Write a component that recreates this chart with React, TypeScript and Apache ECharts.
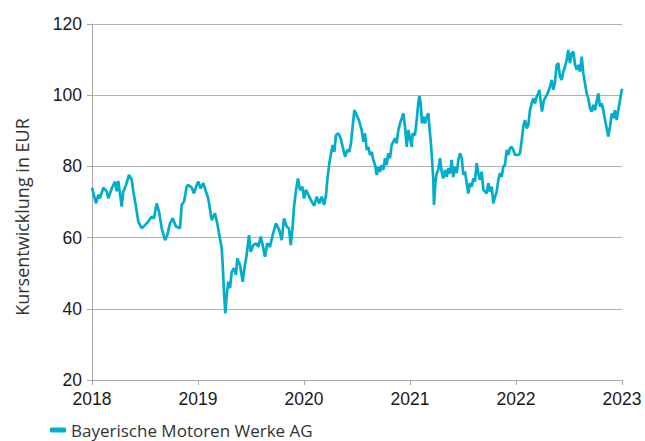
import React, { useEffect, useRef } from "react";
import * as echarts from "echarts";

const seriesName = "Bayerische Motoren Werke AG";
const yAxisTitle = "Kursentwicklung in EUR";
const xTicks = [2018, 2019, 2020, 2021, 2022, 2023];
const yTicks = [20, 40, 60, 80, 100, 120];

const years = [
  2018.000, 2018.038, 2018.059, 2018.075, 2018.107, 2018.139, 2018.154, 2018.186, 2018.217, 2018.233,
  2018.248, 2018.280, 2018.295, 2018.321, 2018.349, 2018.375, 2018.390, 2018.412, 2018.437, 2018.469,
  2018.500, 2018.531, 2018.563, 2018.585, 2018.610, 2018.632, 2018.658, 2018.689, 2018.710, 2018.736,
  2018.761, 2018.792, 2018.830, 2018.846, 2018.868, 2018.893, 2018.908, 2018.941, 2018.962, 2018.988,
  2019.003, 2019.025, 2019.050, 2019.075, 2019.097, 2019.129, 2019.160, 2019.182, 2019.201, 2019.224,
  2019.233, 2019.245, 2019.258, 2019.271, 2019.286, 2019.302, 2019.318, 2019.340, 2019.358, 2019.371,
  2019.396, 2019.422, 2019.443, 2019.459, 2019.481, 2019.497, 2019.522, 2019.547, 2019.569, 2019.592,
  2019.610, 2019.632, 2019.654, 2019.679, 2019.705, 2019.735, 2019.767, 2019.790, 2019.811, 2019.837,
  2019.858, 2019.875, 2019.893, 2019.906, 2019.925, 2019.943, 2019.962, 2019.984, 2020.000, 2020.019,
  2020.041, 2020.073, 2020.097, 2020.120, 2020.144, 2020.167, 2020.189, 2020.208, 2020.220, 2020.239,
  2020.255, 2020.271, 2020.286, 2020.302, 2020.324, 2020.346, 2020.365, 2020.387, 2020.408, 2020.427,
  2020.443, 2020.459, 2020.475, 2020.497, 2020.522, 2020.544, 2020.560, 2020.575, 2020.592, 2020.607,
  2020.623, 2020.639, 2020.654, 2020.670, 2020.686, 2020.701, 2020.717, 2020.733, 2020.748, 2020.764,
  2020.780, 2020.795, 2020.811, 2020.827, 2020.842, 2020.858, 2020.874, 2020.890, 2020.906, 2020.922,
  2020.937, 2020.953, 2020.969, 2020.984, 2021.000, 2021.016, 2021.025, 2021.047, 2021.063, 2021.078,
  2021.088, 2021.101, 2021.113, 2021.125, 2021.142, 2021.158, 2021.173, 2021.182, 2021.195, 2021.208,
  2021.220, 2021.226, 2021.239, 2021.252, 2021.267, 2021.283, 2021.299, 2021.314, 2021.330, 2021.346,
  2021.361, 2021.377, 2021.393, 2021.408, 2021.425, 2021.441, 2021.456, 2021.472, 2021.488, 2021.503,
  2021.519, 2021.535, 2021.550, 2021.566, 2021.582, 2021.597, 2021.613, 2021.629, 2021.644, 2021.660,
  2021.676, 2021.692, 2021.708, 2021.723, 2021.739, 2021.755, 2021.771, 2021.786, 2021.802, 2021.818,
  2021.833, 2021.849, 2021.865, 2021.880, 2021.896, 2021.912, 2021.927, 2021.943, 2021.959, 2021.975,
  2021.991, 2022.022, 2022.038, 2022.054, 2022.069, 2022.085, 2022.101, 2022.116, 2022.132, 2022.148,
  2022.163, 2022.179, 2022.195, 2022.210, 2022.220, 2022.233, 2022.245, 2022.264, 2022.290, 2022.305,
  2022.321, 2022.337, 2022.352, 2022.368, 2022.384, 2022.399, 2022.415, 2022.431, 2022.446, 2022.462,
  2022.478, 2022.493, 2022.509, 2022.525, 2022.541, 2022.557, 2022.573, 2022.588, 2022.604, 2022.620,
  2022.635, 2022.651, 2022.667, 2022.682, 2022.698, 2022.714, 2022.729, 2022.745, 2022.761, 2022.777,
  2022.792, 2022.808, 2022.824, 2022.840, 2022.856, 2022.871, 2022.887, 2022.903, 2022.918, 2022.934,
  2022.950, 2022.965, 2022.981, 2023.000,
];

const prices = [
  74.0, 69.6, 72.0, 71.0, 74.0, 73.0, 71.0, 73.8, 75.7, 73.0,
  75.9, 68.7, 72.9, 74.8, 77.6, 76.2, 72.9, 69.2, 64.5, 62.6,
  63.5, 64.5, 65.9, 65.4, 69.6, 67.3, 62.6, 59.3, 60.7, 64.0,
  65.4, 63.1, 62.6, 69.2, 70.1, 74.3, 74.8, 74.0, 72.4, 74.8,
  75.7, 73.8, 75.3, 72.9, 71.0, 64.9, 66.8, 64.0, 60.7, 57.0,
  52.3, 44.8, 38.7, 43.9, 47.6, 45.8, 50.4, 51.4, 49.5, 54.2,
  52.3, 47.6, 52.3, 55.1, 60.7, 56.0, 57.9, 58.4, 57.4, 60.3,
  57.9, 54.6, 58.4, 57.4, 60.8, 64.0, 62.1, 59.3, 65.4, 63.1,
  62.6, 57.9, 63.1, 68.7, 73.4, 76.6, 73.4, 74.3, 71.0, 73.4,
  72.0, 70.1, 68.9, 71.5, 69.6, 71.5, 69.2, 72.0, 76.2, 80.9,
  83.7, 86.0, 84.1, 88.8, 89.3, 87.9, 85.5, 82.7, 84.6, 84.1,
  86.5, 91.2, 95.8, 94.4, 92.6, 90.2, 86.9, 89.3, 84.6, 85.5,
  83.2, 84.1, 81.8, 80.4, 77.6, 79.9, 78.5, 80.4, 79.0, 82.3,
  80.4, 83.7, 82.3, 86.0, 86.9, 87.9, 86.5, 90.2, 92.1, 93.5,
  94.9, 91.2, 85.5, 90.2, 87.9, 85.5, 89.3, 88.8, 93.0, 97.7,
  99.8, 97.7, 92.1, 94.0, 92.1, 94.0, 94.9, 91.2, 87.4, 81.8,
  76.2, 69.2, 75.3, 78.1, 79.0, 82.3, 78.5, 76.6, 79.0, 77.1,
  79.5, 78.0, 81.8, 77.0, 79.9, 78.1, 81.8, 83.7, 82.3, 77.6,
  78.5, 75.3, 72.4, 75.3, 74.3, 76.6, 75.7, 80.9, 78.1, 76.2,
  78.5, 73.4, 72.9, 72.4, 75.3, 72.9, 74.3, 69.6, 71.5, 72.9,
  76.2, 78.1, 77.1, 79.9, 80.4, 84.6, 83.2, 85.1, 85.5, 84.6,
  83.2, 83.2, 83.7, 87.4, 91.2, 93.0, 90.7, 91.6, 95.8, 97.7,
  99.1, 97.7, 99.6, 100.5, 101.5, 98.2, 95.4, 98.6, 100.0, 101.0,
  102.4, 104.3, 101.5, 103.8, 108.5, 109.0, 105.2, 104.3, 106.6, 108.0,
  109.9, 112.7, 109.0, 111.8, 112.2, 108.5, 107.1, 108.5, 106.6, 110.8,
  106.2, 103.3, 100.5, 99.1, 96.3, 95.4, 97.3, 95.8, 98.2, 100.5,
  96.8, 97.7, 95.8, 93.0, 90.7, 88.4, 91.2, 94.9, 93.5, 95.8,
  93.0, 95.8, 98.6, 101.8,
];

const LINE_COLOR = "#00aecb";
const AXIS_COLOR = "#a6a6a6";

export default function App() {
  const ref = useRef<HTMLDivElement>(null);

  useEffect(() => {
    if (!ref.current) return;
    const chart = echarts.init(ref.current, null, { renderer: "svg" });
    const data = years.map((y, i) => [y, prices[i]]);
    chart.setOption({
      animation: false,
      backgroundColor: "#ffffff",
      textStyle: { fontFamily: "Liberation Sans" },
      grid: { left: 92, right: 23, top: 24, bottom: 61 },
      xAxis: {
        type: "value",
        min: xTicks[0],
        max: xTicks[xTicks.length - 1],
        interval: 1,
        axisLine: { show: true, lineStyle: { color: AXIS_COLOR, width: 1 } },
        axisTick: { show: true, length: 5, lineStyle: { color: AXIS_COLOR } },
        splitLine: { show: false },
        axisLabel: {
          color: "#1a1a1a",
          fontSize: 17.5,
          margin: 10,
          fontFamily: "Liberation Sans",
          formatter: (v: number) => String(v),
        },
      },
      yAxis: {
        type: "value",
        min: yTicks[0],
        max: yTicks[yTicks.length - 1],
        interval: 20,
        axisLine: { show: true, lineStyle: { color: AXIS_COLOR, width: 1 } },
        axisTick: { show: true, length: 5, lineStyle: { color: AXIS_COLOR } },
        splitLine: { show: true, lineStyle: { color: "#b3b3b3", width: 1 } },
        axisLabel: {
          color: "#1a1a1a",
          fontSize: 17.5,
          margin: 10,
          fontFamily: "Liberation Sans",
        },
      },
      legend: {
        data: [seriesName],
        left: 50,
        top: 421,
        padding: 0,
        icon: "roundRect",
        itemWidth: 16,
        itemHeight: 5,
        textStyle: {
          fontFamily: "Open Sans",
          fontSize: 17,
          lineHeight: 18,
          color: "#333333",
        },
      },
      graphic: [
        {
          type: "text",
          x: 22,
          y: 217,
          rotation: Math.PI / 2,
          style: {
            text: yAxisTitle,
            fontSize: 18,
            fontFamily: "Open Sans",
            fill: "#333333",
            align: "center",
            verticalAlign: "middle",
            textAlign: "center",
            textVerticalAlign: "middle",
          },
        },
      ],
      series: [
        {
          name: seriesName,
          type: "line",
          data,
          showSymbol: false,
          symbol: "none",
          color: LINE_COLOR,
          lineStyle: { color: LINE_COLOR, width: 2.7 },
          itemStyle: { color: LINE_COLOR },
        },
      ],
    });
    return () => chart.dispose();
  }, []);

  return (
    <div
      ref={ref}
      style={{ position: "absolute", left: 0, top: 0, width: 645, height: 441 }}
    />
  );
}
